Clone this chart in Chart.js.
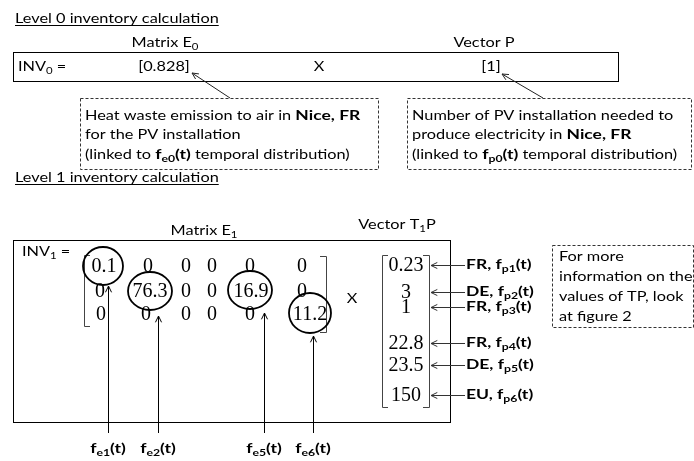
<!DOCTYPE html>
<html>
<head>
<meta charset="utf-8">
<script src="https://cdn.jsdelivr.net/npm/chart.js@4.4.0/dist/chart.umd.min.js"></script>
<style>
  html, body { margin: 0; padding: 0; background: #fff; }
  #wrap { width: 694px; height: 461px; position: relative; }
</style>
</head>
<body>
<div id="wrap"><canvas id="c"></canvas></div>
<script>
// ---------- DATA ----------
const matrixE0 = [0.828];
const vectorP = [1];
const matrixE1 = [
  [0.1, 0, 0, 0, 0, 0],
  [0, 76.3, 0, 0, 16.9, 0],
  [0, 0, 0, 0, 0, 11.2]
];
const vectorT1P = [0.23, 3, 1, 22.8, 23.5, 150];
const vectorRegions = ['FR', 'DE', 'FR', 'FR', 'DE', 'EU'];
const vectorFnIdx = ['p1', 'p2', 'p3', 'p4', 'p5', 'p6'];
const circledCells = [[0, 0], [1, 1], [1, 4], [2, 5]];
const emissionFnIdx = ['e1', 'e2', 'e5', 'e6'];
const level0Title = 'Level 0 inventory calculation';
const level1Title = 'Level 1 inventory calculation';
const note1 = [
  [['Heat waste emission to air in ', ''], ['Nice, FR', 'b']],
  [['for the PV installation', '']],
  [['(linked to ', ''], ['f', 'b'], ['e0', 'bs'], ['(t)', 'b'], [' temporal distribution)', '']]
];
const note2 = [
  [['Number of PV installation needed to', '']],
  [['produce electricity in ', ''], ['Nice, FR', 'b']],
  [['(linked to ', ''], ['f', 'b'], ['p0', 'bs'], ['(t)', 'b'], [' temporal distribution)', '']]
];
const note3 = ['For more', 'information on the', 'values of TP, look', 'at figure 2'];

// ---------- LAYOUT (positions in scale units) ----------
const L = {
  cellX: [
    [104, 148, 186, 212, 250, 302],
    [100, 150, 186, 212, 251, 302],
    [101, 146, 186, 212, 250, 310]
  ],
  rowY: [266, 291, 314],
  circle: [[103, 266, 20, 19], [150, 291, 22, 19], [250, 290, 22, 19], [310, 313, 21, 20]],
  fnArrowX: [108, 158, 264, 313],
  fnArrowTip: [286, 316, 313, 336],
  vecX: 406,
  vecY: [265, 292, 307, 343, 365, 395]
};

const SANS = 'Lato, "Noto Sans", sans-serif';
const SERIF = '"Liberation Serif", "DejaVu Serif", serif';
const STRETCH_REG = 1.165;
const STRETCH_BOLD = 1.25;

function fontFor(flags, size) {
  const bold = flags.includes('b');
  const sub = flags.includes('s');
  return (bold ? 'bold ' : '') + (sub ? (size * 0.7).toFixed(1) : size) + 'px ' + SANS;
}
function stretchFor(flags) { return flags.includes('b') ? STRETCH_BOLD : STRETCH_REG; }
function richWidth(ctx, runs, size) {
  let w = 0;
  for (const [t, f] of runs) { ctx.font = fontFor(f, size); w += ctx.measureText(t).width * stretchFor(f); }
  return w;
}
function rich(ctx, runs, px, py, size, align) {
  const w = richWidth(ctx, runs, size);
  let cx = align === 'center' ? px - w / 2 : (align === 'right' ? px - w : px);
  ctx.textAlign = 'left';
  ctx.textBaseline = 'middle';
  for (const [t, f] of runs) {
    ctx.font = fontFor(f, size);
    const dy = f.includes('s') ? size * 0.32 : 0;
    const s = stretchFor(f);
    ctx.save();
    ctx.translate(cx, py + dy);
    ctx.scale(s, 1);
    ctx.fillText(t, 0, 0);
    ctx.restore();
    cx += ctx.measureText(t).width * s;
  }
  return w;
}
function arrowHead(ctx, x1, y1, x2, y2, len) {
  const a = Math.atan2(y2 - y1, x2 - x1);
  ctx.beginPath();
  ctx.moveTo(x2 - len * Math.cos(a - 0.45), y2 - len * Math.sin(a - 0.45));
  ctx.lineTo(x2, y2);
  ctx.lineTo(x2 - len * Math.cos(a + 0.45), y2 - len * Math.sin(a + 0.45));
  ctx.stroke();
}
function arrow(ctx, x1, y1, x2, y2) {
  ctx.beginPath(); ctx.moveTo(x1, y1); ctx.lineTo(x2, y2); ctx.stroke();
  arrowHead(ctx, x1, y1, x2, y2, 7);
}

const diagramPlugin = {
  id: 'diagram',
  afterDraw(chart) {
    const ctx = chart.ctx;
    const sx = chart.scales.x, sy = chart.scales.y;
    const X = v => sx.getPixelForValue(v);
    const Y = v => sy.getPixelForValue(v);
    ctx.save();
    ctx.fillStyle = '#000';
    ctx.strokeStyle = '#000';
    ctx.lineWidth = 1;
    const FS = 14;
    const FB = 14;

    // ---- Level 0 ----
    let w = rich(ctx, [[level0Title, '']], X(15), Y(18), FS, 'left');
    ctx.beginPath(); ctx.moveTo(X(15), Y(25.5)); ctx.lineTo(X(15) + w, Y(25.5)); ctx.stroke();
    rich(ctx, [['Matrix E', ''], ['0', 's']], X(165), Y(42), FS, 'center');
    rich(ctx, [['Vector P', '']], X(484), Y(42), FS, 'center');
    ctx.strokeRect(X(13) + 0.5, Y(52) + 0.5, X(618) - X(13), Y(81) - Y(52));
    rich(ctx, [['INV', ''], ['0', 's'], [' =', '']], X(18), Y(66), FS, 'left');
    rich(ctx, [['[' + matrixE0[0] + ']', '']], X(164), Y(66), FS, 'center');
    rich(ctx, [['X', '']], X(319), Y(66), FS, 'center');
    rich(ctx, [['[' + vectorP[0] + ']', '']], X(491), Y(66), FS, 'center');

    ctx.strokeStyle = '#222';
    arrow(ctx, X(230), Y(98), X(192), Y(73));
    arrow(ctx, X(543), Y(98), X(502), Y(74));

    // dashed boxes
    ctx.save();
    ctx.setLineDash([3, 2]);
    ctx.strokeStyle = '#333';
    ctx.strokeRect(X(80) + 0.5, Y(98) + 0.5, X(378) - X(80), Y(169) - Y(98));
    ctx.strokeRect(X(407) + 0.5, Y(98) + 0.5, X(691) - X(407), Y(169) - Y(98));
    ctx.strokeRect(X(552) + 0.5, Y(245) + 0.5, X(693) - X(552), Y(327) - Y(245));
    ctx.restore();
    note1.forEach((runs, i) => rich(ctx, runs, X(85), Y(115 + i * 19.5), FS, 'left'));
    note2.forEach((runs, i) => rich(ctx, runs, X(412), Y(115 + i * 19.5), FS, 'left'));
    note3.forEach((t, i) => rich(ctx, [[t, '']], X(559), Y(256 + i * 20.3), FS, 'left'));

    // ---- Level 1 ----
    ctx.strokeStyle = '#000';
    w = rich(ctx, [[level1Title, '']], X(15), Y(177), FS, 'left');
    ctx.beginPath(); ctx.moveTo(X(15), Y(184.5)); ctx.lineTo(X(15) + w, Y(184.5)); ctx.stroke();
    rich(ctx, [['Matrix E', ''], ['1', 's']], X(204), Y(230), FS, 'center');
    rich(ctx, [['Vector T', ''], ['1', 's'], ['P', '']], X(397), Y(224), FS, 'center');
    ctx.strokeRect(X(13) + 0.5, Y(240) + 0.5, X(450) - X(13), Y(422) - Y(240));
    rich(ctx, [['INV', ''], ['1', 's'], [' =', '']], X(22), Y(251), FS, 'left');
    rich(ctx, [['X', '']], X(352), Y(298), FS, 'center');

    // matrix values
    ctx.font = '20px ' + SERIF;
    ctx.textAlign = 'center';
    ctx.textBaseline = 'middle';
    matrixE1.forEach((row, r) => row.forEach((v, c) => {
      ctx.fillText(String(v), X(L.cellX[r][c]), Y(L.rowY[r]) + 1);
    }));
    // vector values
    vectorT1P.forEach((v, i) => ctx.fillText(String(v), X(L.vecX), Y(L.vecY[i]) + 1));

    // brackets
    ctx.strokeStyle = '#444';
    function bracket(x, y1, y2, dir) {
      ctx.beginPath();
      ctx.moveTo(X(x) + dir * 6, Y(y1) + 0.5);
      ctx.lineTo(X(x) + 0.5, Y(y1) + 0.5);
      ctx.lineTo(X(x) + 0.5, Y(y2) + 0.5);
      ctx.lineTo(X(x) + dir * 6, Y(y2) + 0.5);
      ctx.stroke();
    }
    bracket(84, 255, 326, 1);
    bracket(326, 256, 332, -1);
    bracket(382, 255, 407, 1);
    bracket(429, 255, 407, -1);

    // circles
    ctx.strokeStyle = '#000';
    ctx.lineWidth = 1.8;
    circledCells.forEach((cell, i) => {
      const [cx, cy, rx, ry] = L.circle[i];
      ctx.beginPath();
      ctx.ellipse(X(cx), Y(cy), rx, ry, 0, 0, Math.PI * 2);
      ctx.stroke();
    });
    ctx.lineWidth = 1;

    // emission function arrows + labels
    emissionFnIdx.forEach((e, i) => {
      const x = X(L.fnArrowX[i]) + 0.5;
      arrow(ctx, x, Y(433), x, Y(L.fnArrowTip[i]));
      rich(ctx, [['f', 'b'], [e, 'bs'], ['(t)', 'b']], X(L.fnArrowX[i]), Y(448), FB, 'center');
    });

    // vector labels + arrows
    ctx.strokeStyle = '#333';
    vectorT1P.forEach((v, i) => {
      const y = Y(L.vecY[i]) + 0.5;
      arrow(ctx, X(465), y, X(431), y);
      rich(ctx, [[vectorRegions[i] + ', f', 'b'], [vectorFnIdx[i], 'bs'], ['(t)', 'b']], X(466), Y(L.vecY[i] - 1), FB, 'left');
    });

    ctx.restore();
  }
};

new Chart(document.getElementById('c'), {
  type: 'scatter',
  data: { datasets: [{ data: [], pointRadius: 0 }] },
  options: {
    responsive: true,
    maintainAspectRatio: false,
    animation: false,
    devicePixelRatio: 1,
    layout: { padding: 0 },
    plugins: { legend: { display: false }, tooltip: { enabled: false } },
    scales: {
      x: { type: 'linear', min: 0, max: 694, display: false },
      y: { type: 'linear', min: 0, max: 461, reverse: true, display: false }
    }
  },
  plugins: [diagramPlugin]
});
</script>
</body>
</html>
